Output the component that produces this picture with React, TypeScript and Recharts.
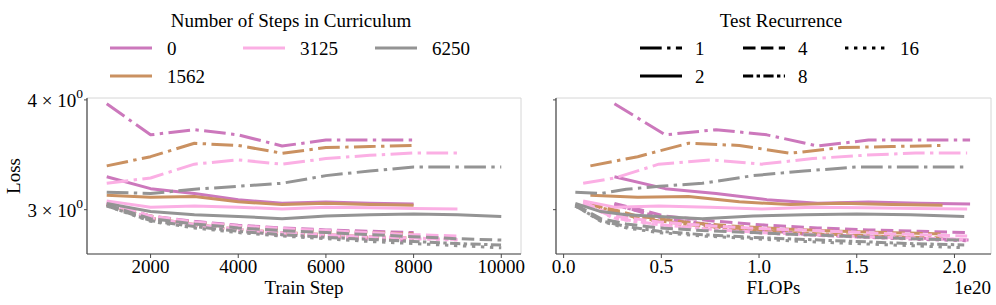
import React from 'react';
import { LineChart, Line, XAxis, YAxis, CartesianGrid } from 'recharts';

// ---------- categories ----------
const curricula = ['0', '1562', '3125', '6250'];
const curriculumColors = ['#cc78bc', '#ca9161', '#fbafe4', '#949494'];
const recurrences = ['1', '2', '4', '8', '16'];
const recurrenceDashes = ['21.7 5.4 3.4 5.4', '', '12.5 5.4', '10.2 3.4 3.4 3.4', '3.4 5.6'];

// ---------- x values ----------
const stepsC0 = [1000, 2000, 3000, 4000, 5000, 6000, 7000, 8000];
const stepsC1562 = [1000, 2000, 3000, 4000, 5000, 6000, 7000, 8000];
const stepsC3125 = [1000, 2000, 3000, 4000, 5000, 6000, 7000, 8000, 9000];
const stepsC6250 = [1000, 2000, 3000, 4000, 5000, 6000, 7000, 8000, 9000, 10000];

// FLOPs in units of 1e20
const flopsC0 = [0.26, 0.52, 0.78, 1.04, 1.3, 1.56, 1.82, 2.08];
const flopsC1562 = [0.137, 0.379, 0.639, 0.899, 1.159, 1.419, 1.679, 1.939];
const flopsC3125 = [0.1, 0.262, 0.487, 0.749, 1.012, 1.275, 1.538, 1.801, 2.065];
const flopsC6250 = [0.06, 0.19, 0.32, 0.49, 0.71, 0.97, 1.23, 1.5, 1.775, 2.05];

// ---------- loss values ----------
const lossC0R1 = [3.96, 3.65, 3.7, 3.65, 3.545, 3.6, 3.6, 3.6];
const lossC0R2 = [3.27, 3.17, 3.13, 3.08, 3.05, 3.06, 3.05, 3.045];
const lossC0R4 = [3.05, 2.95, 2.91, 2.88, 2.86, 2.845, 2.835, 2.825];
const lossC0R8 = [3.04, 2.93, 2.88, 2.84, 2.81, 2.8, 2.785, 2.77];
const lossC0R16 = [3.04, 2.93, 2.875, 2.835, 2.805, 2.79, 2.775, 2.765];

const lossC1562R1 = [3.365, 3.447, 3.57, 3.55, 3.478, 3.53, 3.54, 3.55];
const lossC1562R2 = [3.115, 3.1, 3.105, 3.063, 3.04, 3.05, 3.04, 3.035];
const lossC1562R4 = [3.05, 2.95, 2.9, 2.87, 2.85, 2.835, 2.825, 2.815];
const lossC1562R8 = [3.04, 2.935, 2.885, 2.85, 2.825, 2.81, 2.795, 2.785];
const lossC1562R16 = [3.04, 2.93, 2.88, 2.845, 2.82, 2.805, 2.79, 2.78];

const lossC3125R1 = [3.215, 3.26, 3.38, 3.418, 3.38, 3.43, 3.46, 3.48, 3.48];
const lossC3125R2 = [3.07, 3.02, 3.03, 3.02, 3.005, 3.02, 3.015, 3.01, 3.005];
const lossC3125R4 = [3.06, 2.95, 2.905, 2.875, 2.855, 2.84, 2.825, 2.81, 2.8];
const lossC3125R8 = [3.05, 2.935, 2.885, 2.85, 2.825, 2.81, 2.795, 2.785, 2.775];
const lossC3125R16 = [3.05, 2.93, 2.88, 2.845, 2.82, 2.805, 2.79, 2.78, 2.77];

const lossC6250R1 = [3.14, 3.13, 3.165, 3.19, 3.215, 3.28, 3.32, 3.355, 3.355, 3.355];
const lossC6250R2 = [3.05, 2.985, 2.96, 2.947, 2.93, 2.95, 2.96, 2.966, 2.96, 2.947];
const lossC6250R4 = [3.04, 2.93, 2.89, 2.86, 2.84, 2.825, 2.81, 2.795, 2.78, 2.77];
const lossC6250R8 = [3.03, 2.915, 2.87, 2.835, 2.81, 2.79, 2.775, 2.76, 2.745, 2.735];
const lossC6250R16 = [3.03, 2.91, 2.86, 2.825, 2.8, 2.78, 2.76, 2.745, 2.73, 2.715];

// ---------- ticks ----------
const stepTicks = [2000, 4000, 6000, 8000, 10000];
const flopTicks = [0, 0.5, 1.0, 1.5, 2.0];
const lossTicks = [3, 4];

const groups = [
  { steps: stepsC0, flops: flopsC0, losses: [lossC0R1, lossC0R2, lossC0R4, lossC0R8, lossC0R16] },
  { steps: stepsC1562, flops: flopsC1562, losses: [lossC1562R1, lossC1562R2, lossC1562R4, lossC1562R8, lossC1562R16] },
  { steps: stepsC3125, flops: flopsC3125, losses: [lossC3125R1, lossC3125R2, lossC3125R4, lossC3125R8, lossC3125R16] },
  { steps: stepsC6250, flops: flopsC6250, losses: [lossC6250R1, lossC6250R2, lossC6250R4, lossC6250R8, lossC6250R16] },
];

const FONT = '"Liberation Serif", "DejaVu Serif", serif';
const SPINE = '#4a4a4a';
const GRID = '#d6d6d6';
const LW = 3;

function buildSeries(useFlops: boolean) {
  const out: { key: string; color: string; dash: string; data: { x: number; y: number }[] }[] = [];
  groups.forEach((g, ci) => {
    g.losses.forEach((loss, ri) => {
      const xs = useFlops ? g.flops : g.steps;
      out.push({
        key: `c${curricula[ci]}-r${recurrences[ri]}`,
        color: curriculumColors[ci],
        dash: recurrenceDashes[ri],
        data: xs.map((x, i) => ({ x, y: loss[i] })),
      });
    });
  });
  return out;
}

const LossTick = (props: any) => {
  const { x, y, payload } = props;
  return (
    <text x={x} y={y} textAnchor="end" fontFamily={FONT} fontSize={19} fill="#000">
      <tspan dy={7}>{`${payload.value} × 10`}</tspan>
      <tspan dy={-9} fontSize={13.5}>0</tspan>
    </text>
  );
};

const EmptyTick = () => <g />;

const xTickStyle = { fontFamily: FONT, fontSize: 19, fill: '#000' };

function Panel(props: { useFlops: boolean; width: number; yAxisWidth: number; marginRight: number; showLabels: boolean }) {
  const series = buildSeries(props.useFlops);
  const domain = props.useFlops ? [-0.039, 2.187] : [550, 10450];
  const ticks = props.useFlops ? flopTicks : stepTicks;
  return (
    <LineChart
      width={props.width}
      height={305}
      margin={{ top: 98, right: props.marginRight, bottom: 0, left: 0 }}
    >
      <CartesianGrid stroke={GRID} strokeWidth={1} />
      <XAxis
        xAxisId="main"
        dataKey="x"
        type="number"
        domain={domain as any}
        ticks={ticks}
        allowDataOverflow
        height={51}
        tickSize={4}
        tickMargin={2}
        tickLine={{ stroke: SPINE }}
        axisLine={{ stroke: SPINE, strokeWidth: 1.2 }}
        tick={xTickStyle}
        tickFormatter={(v: number) => (props.useFlops ? v.toFixed(1) : String(v))}
      />
      <XAxis
        xAxisId="top"
        orientation="top"
        dataKey="x"
        type="number"
        domain={domain as any}
        height={0}
        tick={false}
        tickLine={false}
        axisLine={{ stroke: SPINE, strokeWidth: 1.2 }}
      />
      <YAxis
        yAxisId="main"
        type="number"
        scale="log"
        domain={[2.671, 4.02]}
        allowDataOverflow
        ticks={lossTicks}
        width={props.yAxisWidth}
        tickSize={3}
        tickMargin={1}
        tickLine={{ stroke: SPINE }}
        axisLine={{ stroke: SPINE, strokeWidth: 1.2 }}
        tick={props.showLabels ? <LossTick /> : <EmptyTick />}
      />
      <YAxis
        yAxisId="right"
        orientation="right"
        type="number"
        scale="log"
        domain={[2.671, 4.02]}
        allowDataOverflow
        width={0}
        tick={false}
        tickLine={false}
        axisLine={{ stroke: SPINE, strokeWidth: 1.2 }}
      />
      {series.map((s) => (
        <Line
          key={s.key}
          xAxisId="main"
          yAxisId="main"
          data={s.data}
          dataKey="y"
          type="linear"
          stroke={s.color}
          strokeWidth={LW}
          strokeDasharray={s.dash || undefined}
          strokeLinejoin="round"
          dot={false}
          activeDot={false}
          isAnimationActive={false}
        />
      ))}
    </LineChart>
  );
}

function LegendSample({ x, y, color, dash }: { x: number; y: number; color: string; dash: string }) {
  return <line x1={x} x2={x + 42} y1={y} y2={y} stroke={color} strokeWidth={LW} strokeDasharray={dash || undefined} />;
}

export default function App() {
  // matplotlib legend with ncol=3 fills column-major
  const leftCols = [110, 243, 375];
  const rightCols = [640, 743, 845];
  const rowY = [48, 76];
  return (
    <div style={{ position: 'absolute', left: 0, top: 0, width: 996, height: 305, background: '#fff' }}>
      <div style={{ position: 'absolute', left: 0, top: 0 }}>
        <Panel useFlops={false} width={530} yAxisWidth={87} marginRight={9} showLabels={true} />
      </div>
      <div style={{ position: 'absolute', left: 530, top: 0 }}>
        <Panel useFlops={true} width={466} yAxisWidth={26} marginRight={5} showLabels={false} />
      </div>
      <svg
        width={996}
        height={305}
        style={{ position: 'absolute', left: 0, top: 0, pointerEvents: 'none' }}
        fontFamily={FONT}
        fontSize={19}
      >
        <text x={291} y={26.5} textAnchor="middle">Number of Steps in Curriculum</text>
        {curricula.map((c, i) => {
          const col = Math.floor(i / 2) === 0 ? 0 : i - 1;
          const row = i < 2 ? i : 0;
          return (
            <g key={c}>
              <LegendSample x={leftCols[col]} y={rowY[row]} color={curriculumColors[i]} dash="" />
              <text x={leftCols[col] + 57} y={rowY[row] + 6.5}>{c}</text>
            </g>
          );
        })}
        <text x={781} y={26.5} textAnchor="middle">Test Recurrence</text>
        {recurrences.map((r, i) => {
          const col = Math.floor(i / 2);
          const row = i % 2;
          return (
            <g key={r}>
              <LegendSample x={rightCols[col]} y={rowY[row]} color="#000" dash={recurrenceDashes[i]} />
              <text x={rightCols[col] + 55} y={rowY[row] + 6.5}>{r}</text>
            </g>
          );
        })}
        <text transform="rotate(-90)" x={-176} y={20} textAnchor="middle">Loss</text>
        <text x={304} y={294} textAnchor="middle">Train Step</text>
        <text x={773.5} y={294} textAnchor="middle">FLOPs</text>
        <text x={991} y={294} textAnchor="end">1e20</text>
      </svg>
    </div>
  );
}
